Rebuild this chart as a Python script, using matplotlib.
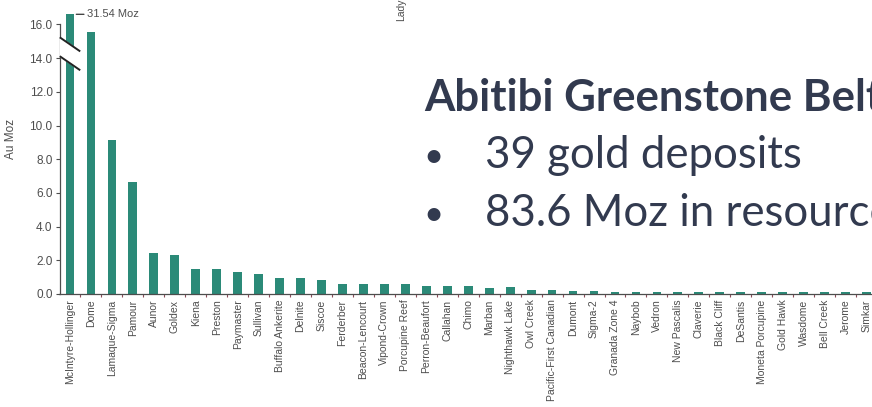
import numpy as np
import matplotlib.pyplot as plt
from matplotlib.ticker import FixedLocator

# deposits of the Abitibi belt, sorted by resource (Au Moz)
deposits = ["McIntyre-Hollinger", "Dome", "Lamaque-Sigma", "Pamour", "Aunor", "Goldex",
            "Kiena", "Preston", "Paymaster", "Sullivan", "Buffalo Ankerite", "Delnite",
            "Siscoe", "Ferderber", "Beacon-Lencourt", "Vipond-Crown", "Porcupine Reef",
            "Perron-Beaufort", "Callahan", "Chimo", "Marban", "Nighthawk Lake", "Owl Creek",
            "Pacific-First Canadian", "Dumont", "Sigma-2", "Granada Zone 4", "Naybob",
            "Vedron", "New Pascalis", "Claverie", "Black Cliff", "DeSantis",
            "Moneta Porcupine", "Gold Hawk", "Wasdome", "Bell Creek", "Jerome", "Simkar"]
au_moz = [31.54, 15.56, 9.15, 6.64, 2.46, 2.31, 1.47, 1.47, 1.31, 1.18, 0.97, 0.95,
          0.85, 0.62, 0.62, 0.60, 0.62, 0.50, 0.50, 0.50, 0.38, 0.40, 0.26, 0.26,
          0.20, 0.20, 0.14, 0.13, 0.13, 0.12, 0.12, 0.12, 0.12, 0.11, 0.11, 0.10,
          0.10, 0.09, 0.09]
y_ticks = [0.0, 2.0, 4.0, 6.0, 8.0, 10.0, 12.0, 14.0, 16.0]
axis_cap = 16.6          # the largest bar is cut off here
break_vals = (14.03, 15.15)  # where the axis break sits

title = "Abitibi Greenstone Belt"
bullets = ["39 gold deposits", "83.6 Moz in resources"]

W, H = 872, 407
fig = plt.figure(figsize=(W / 100, H / 100), dpi=100)
fig.patch.set_facecolor("white")

# axes placed in pixels
x0, y0, x1 = 59.5, 294, 877
ppu = 16.85
ymax = 16.7
ax = fig.add_axes([x0 / W, (H - y0) / H, (x1 - x0) / W, ymax * ppu / H])

bar_color = "#2b8a78"
grey = "#4d4d4d"
shown = [min(v, axis_cap) for v in au_moz]
x = np.arange(len(deposits))
bars = ax.bar(x, shown, width=0.42, color=bar_color, zorder=2)
bars[0].set_clip_on(False)

ax.set_xlim(-0.5, len(deposits) - 0.5)
ax.set_ylim(0, ymax)
for s in ["top", "right"]:
    ax.spines[s].set_visible(False)
ax.spines["left"].set_bounds(0, 16.0)
for s in ["left", "bottom"]:
    ax.spines[s].set_color(grey)
    ax.spines[s].set_linewidth(0.9)

ax.set_yticks(y_ticks)
ax.set_yticklabels([f"{t:.1f}" for t in y_ticks], fontsize=8.5, color=grey,
                   family="Liberation Sans")
ax.tick_params(axis="y", length=3, width=0.8, color=grey, pad=2)

ax.set_xticks(x)
ax.set_xticklabels(deposits, rotation=90, fontsize=7.5, color=grey,
                   family="Liberation Sans")
ax.tick_params(axis="x", length=0, pad=4)
ax.xaxis.set_minor_locator(FixedLocator(x[:-1] + 0.5))
ax.tick_params(axis="x", which="minor", length=2.5, width=0.8, color="#8b4a58")

ax.set_ylabel("Au Moz", fontsize=8.5, color=grey, family="Liberation Sans")
ax.yaxis.set_label_coords(-0.052, 0.55)

# axis break: white band and two slashes across the first bar
lo, hi = break_vals
xs = np.array([-0.45, 0.45])
ax.fill([xs[0], xs[1], xs[1], xs[0]], [hi + 0.05, hi - 0.72, lo - 0.72, lo + 0.05],
        color="white", zorder=3, clip_on=False)
ax.plot(xs, [hi + 0.05, hi - 0.72], color="#222222", lw=1.4, zorder=4, clip_on=False)
ax.plot(xs, [lo + 0.05, lo - 0.72], color="#222222", lw=1.4, zorder=4, clip_on=False)

# label of the cut-off bar
ax.annotate(f"{au_moz[0]:.2f} Moz", xy=(0.3, axis_cap), xytext=(0.8, axis_cap),
            fontsize=8, color=grey, family="Liberation Sans", va="center",
            arrowprops=dict(arrowstyle="-", color="#333333", lw=0.9,
                            shrinkA=0, shrinkB=0), annotation_clip=False)

# cropped rotated label from a neighbouring chart
fig.text(401 / W, 1 - 21 / H, "Lady", rotation=90, fontsize=7.5, color=grey,
         ha="center", va="bottom", family="Liberation Sans")

# slide text (cropped at the right edge, as on the slide)
text_color = "#323a4f"
fs = 31.5
fig.text(424 / W, 1 - 111 / H, title, fontsize=fs, fontweight="bold",
         color=text_color, family="Lato", va="baseline")
for i, line in enumerate(bullets):
    yb = 1 - (168 + i * 58) / H
    fig.text(423 / W, yb + 1 / H, "\u2022", fontsize=25, color=text_color,
             family="Lato", va="baseline")
    fig.text(485 / W, yb, line, fontsize=fs, color=text_color, family="Lato",
             va="baseline")

fig.savefig("out.png", dpi=100)
